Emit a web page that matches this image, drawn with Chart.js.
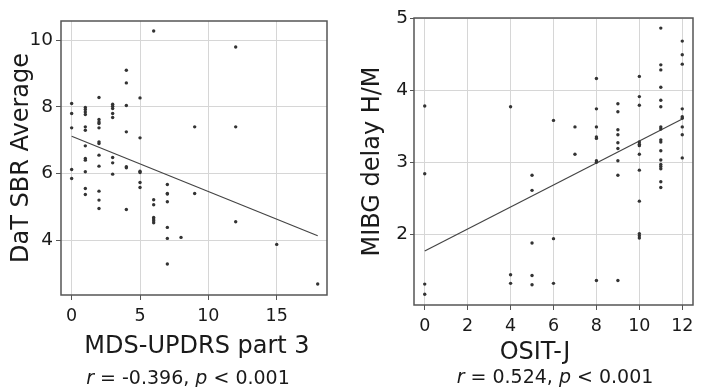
<!DOCTYPE html>
<html>
<head>
<meta charset="utf-8">
<script src="https://cdn.jsdelivr.net/npm/chart.js@4"></script>
<style>
  html, body { margin: 0; padding: 0; background: #fff; }
  .wrap { display: flex; width: 701px; height: 387px; }
  canvas { display: block; }
</style>
</head>
<body>
<div class="wrap">
  <canvas id="datChart" width="350" height="387"></canvas>
  <canvas id="mibgChart" width="351" height="387"></canvas>
</div>
<script>
// Left panel: MDS-UPDRS part 3 vs DaT SBR average
const mdsX = [
  0, 0, 0, 0, 0,
  1, 1, 1, 1, 1, 1, 1, 1, 1, 1, 1, 1,
  2, 2, 2, 2, 2, 2, 2, 2, 2, 2, 2, 2,
  3, 3, 3, 3, 3, 3, 3, 3,
  4, 4, 4, 4, 4, 4, 4,
  5, 5, 5, 5, 5, 5,
  6, 6, 6, 6, 6, 6, 6,
  7, 7, 7, 7, 7, 7, 7,
  8, 9, 9, 12, 12, 12, 15, 18
];
const datSbr = [
  8.1, 7.8, 7.37, 6.12, 5.85,
  7.98, 7.92, 7.85, 7.77, 7.4, 7.3, 6.83, 6.45, 6.4, 6.05, 5.55, 5.37,
  8.28, 7.62, 7.55, 7.5, 7.37, 6.95, 6.9, 6.55, 6.22, 5.47, 5.2, 4.95,
  8.08, 8.02, 7.95, 7.8, 7.68, 6.48, 6.32, 5.98,
  9.1, 8.72, 8.04, 7.25, 6.2, 6.17, 4.92,
  8.27, 7.07, 6.07, 6.03, 5.73, 5.58,
  10.28, 5.21, 5.06, 4.68, 4.63, 4.58, 4.52,
  5.67, 5.4, 5.38, 5.15, 4.38, 4.05, 3.28,
  4.08, 7.4, 5.4, 9.8, 7.4, 4.55, 3.87, 2.68
];
const datFitX = [0, 18];
const datFitY = [7.12, 4.13];
const mdsTicks = [0, 5, 10, 15];
const datTicks = [4, 6, 8, 10];

// Right panel: OSIT-J vs MIBG delay H/M
const ositX = [
  0, 0, 0, 0,
  4, 4, 4,
  5, 5, 5, 5, 5,
  6, 6, 6,
  7, 7,
  8, 8, 8, 8, 8, 8, 8, 8,
  9, 9, 9, 9, 9, 9, 9, 9, 9,
  10, 10, 10, 10, 10, 10, 10, 10, 10, 10, 10, 10,
  11, 11, 11, 11, 11, 11, 11, 11, 11, 11, 11, 11, 11, 11, 11, 11, 11,
  12, 12, 12, 12, 12, 12, 12, 12, 12
];
const mibgHm = [
  3.78, 2.84, 1.31, 1.17,
  3.77, 1.44, 1.32,
  2.82, 2.61, 1.88, 1.43, 1.30,
  3.58, 1.94, 1.32,
  3.49, 3.11,
  4.16, 3.74, 3.49, 3.35, 3.33, 3.02, 3.0, 1.36,
  3.81, 3.70, 3.45, 3.38, 3.27, 3.19, 3.02, 2.82, 1.36,
  4.19, 3.91, 3.79, 3.28, 3.25, 3.23, 3.11, 2.89, 2.46, 2.01, 1.98, 1.95,
  4.86, 4.35, 4.28, 4.04, 3.86, 3.77, 3.49, 3.46, 3.31, 3.28, 3.16, 3.03, 2.97, 2.94, 2.91, 2.73, 2.65,
  4.68, 4.49, 4.36, 3.74, 3.63, 3.61, 3.49, 3.38, 3.06
];
const mibgFitX = [0, 12];
const mibgFitY = [1.77, 3.60];
const ositTicks = [0, 2, 4, 6, 8, 10, 12];
const mibgTicks = [2, 3, 4, 5];

const FONT = '"DejaVu Sans", Verdana, sans-serif';
const INK = '#1a1a1a';

const pairs = (xs, ys) => xs.map((x, i) => ({ x, y: ys[i] }));

// box around the plot area + x title and the r/p line below it
const panelText = {
  id: 'panelText',
  afterDraw(chart, args, opts) {
    const { ctx, chartArea: a } = chart;
    ctx.save();
    ctx.strokeStyle = '#555';
    ctx.lineWidth = 1.5;
    ctx.strokeRect(a.left, a.top, a.right - a.left, a.bottom - a.top);

    ctx.fillStyle = INK;
    ctx.textBaseline = 'middle';
    ctx.textAlign = 'center';
    ctx.font = `24px ${FONT}`;
    ctx.fillText(opts.title, opts.titleX, opts.titleY);

    const parts = [
      ['r', true], [' = ' + opts.r + ', ', false], ['p', true], [' < 0.001', false]
    ];
    const fontOf = it => `${it ? 'italic ' : ''}19px ${FONT}`;
    let total = 0;
    parts.forEach(([t, it]) => { ctx.font = fontOf(it); total += ctx.measureText(t).width; });
    let x = opts.subX - total / 2;
    ctx.textAlign = 'left';
    parts.forEach(([t, it]) => {
      ctx.font = fontOf(it);
      ctx.fillText(t, x, opts.subY);
      x += ctx.measureText(t).width;
    });
    ctx.restore();
  }
};

function makePanel(id, p) {
  return new Chart(document.getElementById(id), {
    type: 'scatter',
    data: {
      datasets: [
        {
          data: pairs(p.xs, p.ys),
          pointRadius: 1.7,
          pointBackgroundColor: '#333',
          pointBorderWidth: 0
        },
        {
          type: 'line',
          data: pairs(p.fitX, p.fitY),
          borderColor: '#444',
          borderWidth: 1.2,
          pointRadius: 0,
          fill: false
        }
      ]
    },
    options: {
      responsive: false,
      animation: false,
      layout: { padding: { top: p.padTop, right: p.padRight, left: 0, bottom: 0 } },
      plugins: {
        legend: { display: false },
        tooltip: { enabled: false },
        panelText: p.text
      },
      scales: {
        x: {
          type: 'linear',
          min: p.xMin,
          max: p.xMax,
          afterBuildTicks: s => { s.ticks = p.xTicks.map(v => ({ value: v })); },
          afterFit: s => { s.height = p.xHeight; },
          grid: { color: '#d6d6d6', tickColor: '#555', tickLength: 5 },
          border: { display: false },
          ticks: { color: INK, font: { family: FONT, size: 17.5 }, padding: 6 }
        },
        y: {
          type: 'linear',
          min: p.yMin,
          max: p.yMax,
          afterBuildTicks: s => { s.ticks = p.yTicks.map(v => ({ value: v })); },
          afterFit: s => { s.width = p.yWidth; },
          grid: { color: '#d6d6d6', tickColor: '#555', tickLength: p.yTickLen },
          border: { display: false },
          ticks: { color: INK, font: { family: FONT, size: 18.5 }, padding: p.yPad },
          title: {
            display: true,
            text: p.yTitle,
            color: INK,
            font: { family: FONT, size: 24 },
            padding: { top: p.yTitlePad, bottom: 0 }
          }
        }
      }
    },
    plugins: [panelText]
  });
}

makePanel('datChart', {
  xs: mdsX, ys: datSbr, fitX: datFitX, fitY: datFitY,
  xTicks: mdsTicks, yTicks: datTicks,
  xMin: -0.78, xMax: 18.68, yMin: 2.35, yMax: 10.58,
  padTop: 21, padRight: 23, xHeight: 92, yWidth: 61,
  yTickLen: 5, yPad: 3, yTitlePad: 7.5,
  yTitle: 'DaT SBR Average',
  text: { title: 'MDS-UPDRS part 3', titleX: 197, titleY: 347, r: '-0.396', subX: 188, subY: 379 }
});

makePanel('mibgChart', {
  xs: ositX, ys: mibgHm, fitX: mibgFitX, fitY: mibgFitY,
  xTicks: ositTicks, yTicks: mibgTicks,
  xMin: -0.5, xMax: 12.5, yMin: 1.02, yMax: 5,
  padTop: 18, padRight: 8, xHeight: 82, yWidth: 64,
  yTickLen: 4, yPad: 2, yTitlePad: 8.5,
  yTitle: 'MIBG delay H/M',
  text: { title: 'OSIT-J', titleX: 185, titleY: 353, r: '0.524', subX: 205, subY: 378 }
});
</script>
</body>
</html>
